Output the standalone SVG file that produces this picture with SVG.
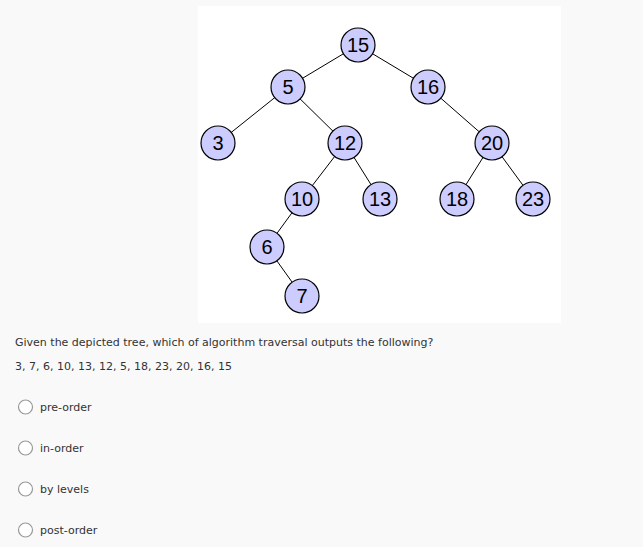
<svg xmlns="http://www.w3.org/2000/svg" width="643" height="547" viewBox="0 0 643 547">
<style>
.n circle{fill:#ccccff;stroke:#000;stroke-width:1.2}
.n text{font-family:"Liberation Sans",Arial,sans-serif;font-size:20px;fill:#000;text-anchor:middle}
.e line{stroke:#000;stroke-width:1}
.t{font-family:"DejaVu Sans",Verdana,sans-serif;font-size:11px;fill:#333}
.r{fill:#fff;stroke:#999;stroke-width:1.2}
</style>
<rect width="643" height="547" fill="#f9f9f9"/>
<rect x="198" y="6" width="363" height="317" fill="#fff"/>
<g class="e" id="connectors">
<line x1="358" y1="45" x2="288" y2="87"/><line x1="358" y1="45" x2="428" y2="87"/>
<line x1="288" y1="87" x2="218" y2="143"/><line x1="288" y1="87" x2="345" y2="143"/>
<line x1="428" y1="87" x2="492" y2="143"/>
<line x1="345" y1="143" x2="302" y2="199"/><line x1="345" y1="143" x2="380" y2="199"/>
<line x1="492" y1="143" x2="457" y2="199"/><line x1="492" y1="143" x2="533" y2="199"/>
<line x1="302" y1="199" x2="267" y2="247"/><line x1="267" y1="247" x2="302" y2="296"/>
</g>
<g class="n" id="n15"><circle cx="358" cy="45" r="17"/><text x="358" y="52">15</text></g>
<g class="n" id="n5"><circle cx="288" cy="87" r="17"/><text x="288" y="94">5</text></g>
<g class="n" id="n16"><circle cx="428" cy="87" r="17"/><text x="428" y="94">16</text></g>
<g class="n" id="n3"><circle cx="218" cy="143" r="17"/><text x="218" y="150">3</text></g>
<g class="n" id="n12"><circle cx="345" cy="143" r="17"/><text x="345" y="150">12</text></g>
<g class="n" id="n20"><circle cx="492" cy="143" r="17"/><text x="492" y="150">20</text></g>
<g class="n" id="n10"><circle cx="302" cy="199" r="17"/><text x="302" y="206">10</text></g>
<g class="n" id="n13"><circle cx="380" cy="199" r="17"/><text x="380" y="206">13</text></g>
<g class="n" id="n18"><circle cx="457" cy="199" r="17"/><text x="457" y="206">18</text></g>
<g class="n" id="n23"><circle cx="533" cy="199" r="17"/><text x="533" y="206">23</text></g>
<g class="n" id="n6"><circle cx="267" cy="247" r="17"/><text x="267" y="254">6</text></g>
<g class="n" id="n7"><circle cx="302" cy="296" r="17"/><text x="302" y="303">7</text></g>
<text class="t" x="15" y="346">Given the depicted tree, which of algorithm traversal outputs the following?</text>
<text class="t" x="15" y="370">3, 7, 6, 10, 13, 12, 5, 18, 23, 20, 16, 15</text>
<circle class="r" cx="25.5" cy="407" r="7"/><text class="t" x="40" y="411">pre-order</text>
<circle class="r" cx="25.5" cy="448" r="7"/><text class="t" x="40" y="452">in-order</text>
<circle class="r" cx="25.5" cy="489" r="7"/><text class="t" x="40" y="493">by levels</text>
<circle class="r" cx="25.5" cy="530" r="7"/><text class="t" x="40" y="534">post-order</text>
</svg>
